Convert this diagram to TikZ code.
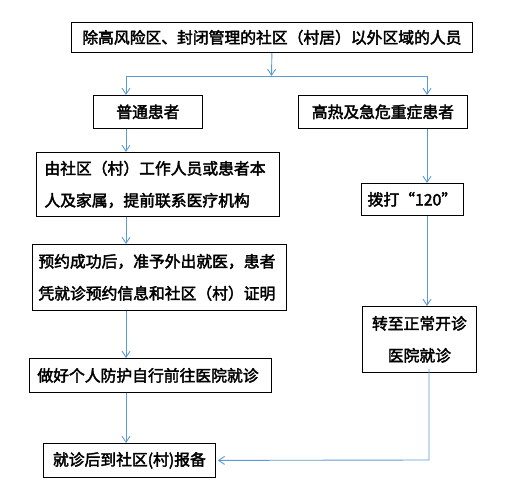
\documentclass[tikz,border=0pt]{standalone}
\usepackage{fontspec}
\setmainfont{Noto Sans CJK SC}[AutoFakeBold=2.5]
\usepackage{tikz}
\usetikzlibrary{arrows.meta, positioning}
\usepackage{xcolor}
\definecolor{flowblue}{RGB}{91,155,213}

\begin{document}
\begin{tikzpicture}[x=1pt, y=-1pt,
    box/.style={draw, line width=0.8pt, inner sep=0pt, font=\bfseries\fontsize{15.8}{32}\selectfont},
    flowline/.style={draw=flowblue, line width=0.9pt},
    flow/.style={flowline, -{Straight Barb[length=6pt, width=8pt]}}]
    \useasboundingbox (0,0) rectangle (522,502);
    % columns of the connectors
    \coordinate (colL) at (126,0);
    \coordinate (colR) at (427,0);
    \coordinate (split) at (271.5,76);
    \coordinate (turn) at (429,460);
    % boxes
    \node[box, anchor=north west, minimum width=401pt, minimum height=30pt] (area) at (71,22) {除高风险区、封闭管理的社区（村居）以外区域的人员};
    \node[box, anchor=north west, minimum width=109pt, minimum height=33pt] (normal) at (93,95) {普通患者};
    \node[box, anchor=north west, minimum width=243pt, minimum height=64pt, text width=227pt, align=left] (contact) at (36,152) {由社区（村）工作人员或患者本\\人及家属，提前联系医疗机构};
    \node[box, anchor=north west, minimum width=254pt, minimum height=66pt, text width=242pt, align=left] (appoint) at (32,244) {预约成功后，准予外出就医，患者\\凭就诊预约信息和社区（村）证明};
    \node[box, anchor=north west, minimum width=242pt, minimum height=34pt, text width=226pt, align=left] (protect) at (29,358) {做好个人防护自行前往医院就诊};
    \node[box, anchor=north west, minimum width=172pt, minimum height=34pt] (report) at (43,443) {就诊后到社区(村)报备};
    \node[box, anchor=north west, minimum width=169pt, minimum height=33pt] (fever) at (298,95) {高热及急危重症患者};
    \node[box, anchor=north west, minimum width=102pt, minimum height=32pt] (call) at (361,183) {拨打“120”};
    \node[box, anchor=north west, minimum width=114pt, minimum height=66pt, align=center] (transfer) at (362,306) {转至正常开诊\\医院就诊};
    % connectors
    \draw[flow] (area.south) -- (split);
    \draw[flowline] (split -| colL) -- (split -| colR);
    \draw[flow] (split -| colL) -- (normal.north -| colL);
    \draw[flow] (split -| colR) -- (fever.north -| colR);
    \draw[flow] (normal.south -| colL) -- (contact.north -| colL);
    \draw[flow] (contact.south -| colL) -- (appoint.north -| colL);
    \draw[flow] (appoint.south -| colL) -- (protect.north -| colL);
    \draw[flow] (protect.south -| colL) -- (report.north -| colL);
    \draw[flow] (fever.south -| colR) -- (call.north -| colR);
    \draw[flow] (call.south -| colR) -- (transfer.north -| colR);
    \draw[flow, shorten >=2pt] ([yshift=4pt]transfer.south -| turn) -- (turn) -- (report.east);
\end{tikzpicture}
\end{document}
